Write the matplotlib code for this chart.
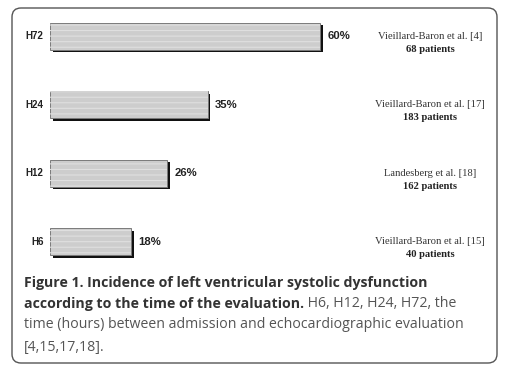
import matplotlib.pyplot as plt
import matplotlib.patheffects as pe
from matplotlib.patches import FancyBboxPatch
from matplotlib.transforms import IdentityTransform

# data
labels = ['H6', 'H12', 'H24', 'H72']
values = [18, 26, 35, 60]
studies = ['Vieillard-Baron et al. [15]', 'Landesberg et al. [18]',
           'Vieillard-Baron et al. [17]', 'Vieillard-Baron et al. [4]']
patients = ['40 patients', '162 patients', '183 patients', '68 patients']

W, H = 518, 374
fig = plt.figure(figsize=(W / 100, H / 100), dpi=100)

# outer rounded frame (pixel coords, origin bottom-left)
frame = FancyBboxPatch((18, 17), 473, 343, boxstyle='round,pad=6,rounding_size=9',
                       transform=IdentityTransform(), facecolor='white',
                       edgecolor='#555555', linewidth=1.0, zorder=-5)
fig.patches.append(frame)

# bar area
ax = fig.add_axes([50 / W, 1 - 276 / H, 447 / W, 274 / H])
ax.set_xlim(0, 447 / 4.5)
ax.set_ylim(-0.5, 3.5)
ax.axis('off')

pos = list(range(len(labels)))
shadow = [pe.SimplePatchShadow(offset=(1.8, -1.8), shadow_rgbFace='#111111', alpha=1.0), pe.Normal()]
ax.barh(pos, values, height=0.39, color='#cdcdcd', edgecolor='#7a7a7a',
        linewidth=0.7, path_effects=shadow, zorder=2)
plt.rcParams['hatch.linewidth'] = 0.8
ax.barh(pos, values, height=0.39, color='none', edgecolor='#dfdfdf',
        hatch='---', linewidth=0, zorder=3)

for p, v, lab in zip(pos, values, labels):
    ax.text(-1.4, p, lab, ha='right', va='center', fontsize=7, fontweight='bold',
            family='Liberation Sans', color='#222222')
    ax.text(v + 1.6, p, f'{v}%', ha='left', va='center', fontsize=8.2,
            fontweight='bold', family='Liberation Sans', color='#222222')

for p, s, n in zip(pos, studies, patients):
    ax.text(0.85, p, s, transform=ax.get_yaxis_transform(), ha='center',
            va='center', fontsize=7.6, family='Liberation Serif', color='#333333')
    ax.text(0.85, p - 0.19, n, transform=ax.get_yaxis_transform(), ha='center',
            va='center', fontsize=7.6, family='Liberation Serif', fontweight='bold',
            color='#222222')

# caption
cap_font = 'Open Sans'
fs = 10.2
x0 = 24 / W
fig.text(x0, 1 - 283 / H, 'Figure 1. Incidence of left ventricular systolic dysfunction',
         fontsize=fs, fontweight='bold', family=cap_font, color='#333333', va='center')
t1 = fig.text(x0, 1 - 304 / H, 'according to the time of the evaluation.',
              fontsize=fs, fontweight='bold', family=cap_font, color='#333333', va='center')
ax.annotate(' H6, H12, H24, H72, the', xy=(1, 0), xycoords=t1, va='bottom',
            ha='left', fontsize=fs, family=cap_font, color='#555555',
            annotation_clip=False)
fig.text(x0, 1 - 325 / H, 'time (hours) between admission and echocardiographic evaluation',
         fontsize=fs, family=cap_font, color='#555555', va='center')
fig.text(x0, 1 - 347 / H, '[4,15,17,18].', fontsize=fs, family=cap_font,
         color='#555555', va='center')

fig.savefig('out.png', dpi=100)
